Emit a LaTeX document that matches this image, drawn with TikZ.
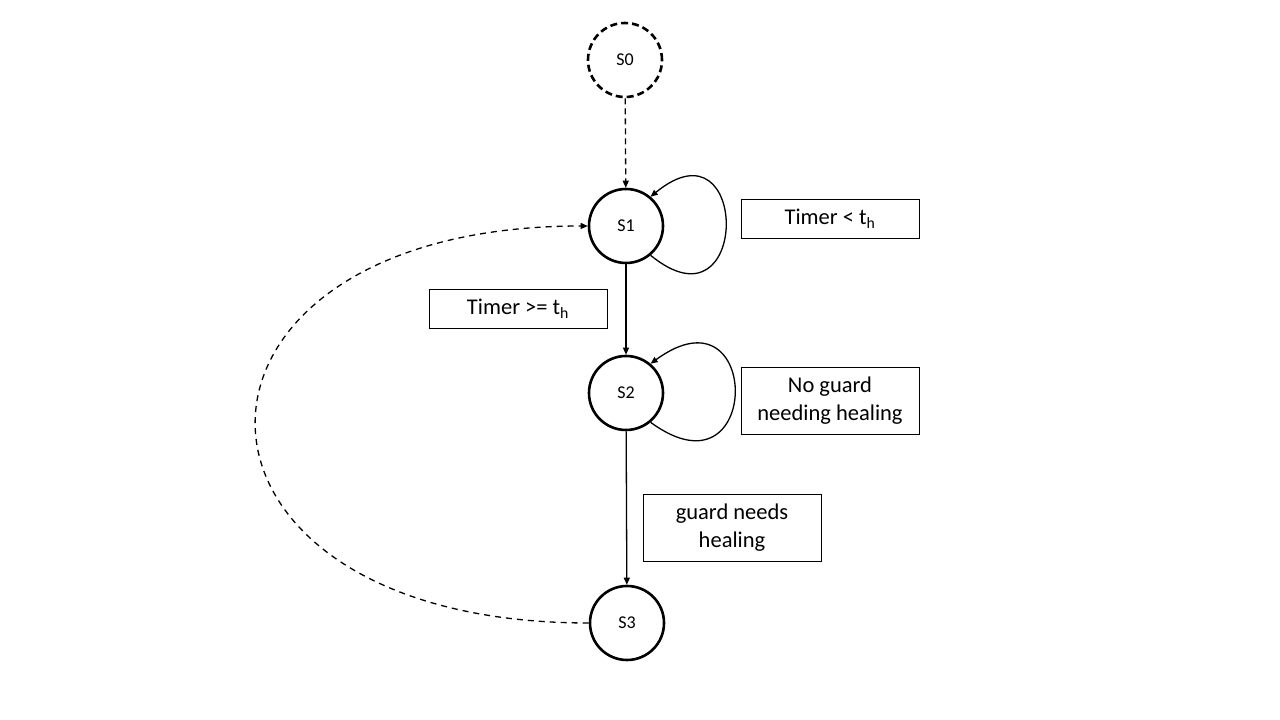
\documentclass[tikz,border=0pt]{standalone}
\usepackage{fontspec}
\setmainfont{Carlito}
\usetikzlibrary{arrows.meta,shapes,positioning}
\tikzstyle{state}=[circle,draw=black,line width=2.6pt,minimum size=74pt,inner sep=0pt,font=\fontsize{18}{21}\selectfont]
\tikzstyle{guard}=[rectangle,draw=black,line width=0.9pt,minimum width=178pt,inner sep=0pt,align=center,font=\fontsize{22.5}{28}\selectfont]

\begin{document}
\begin{tikzpicture}[x=1pt,y=1pt,>={Triangle[length=7pt,width=6pt]},line width=1.3pt]
    \useasboundingbox (0,0) rectangle (1280,720);

    % states
    \node[state,dash pattern=on 7pt off 4pt] (s0) at (625,660) {S0};
    \node[state] (s1) at (626,494) {S1};
    \node[state] (s2) at (626,327) {S2};
    \node[state] (s3) at (627,97) {S3};

    % guards
    \node[guard,minimum height=39pt] (lt) at (830,501.5) {Timer < t\textsubscript{h}};
    \node[guard,minimum height=39pt] (ge) at (518,411.5) {Timer >= t\textsubscript{h}};
    \node[guard,minimum height=67pt] (ok) at (830,319.5) {No guard\\needing healing};
    \node[guard,minimum height=67pt] (heal) at (732,192.5) {guard needs\\healing};

    % transitions
    \draw[->,dash pattern=on 6pt off 4pt] (s0) -- (s1);
    \draw[->] (s1) -- (s2);
    \draw[->] (s2) -- (s3);
    \draw[->] (s1.-50) .. controls +(100,-82) and +(100,82) .. (s1.50);
    \draw[->] (s2.-50) .. controls +(112,-82) and +(112,82) .. (s2.50);
    \draw[->,dash pattern=on 6pt off 5pt] (s3.west) .. controls +(-443,0) and +(-443,0) .. (s1.west);
\end{tikzpicture}
\end{document}
